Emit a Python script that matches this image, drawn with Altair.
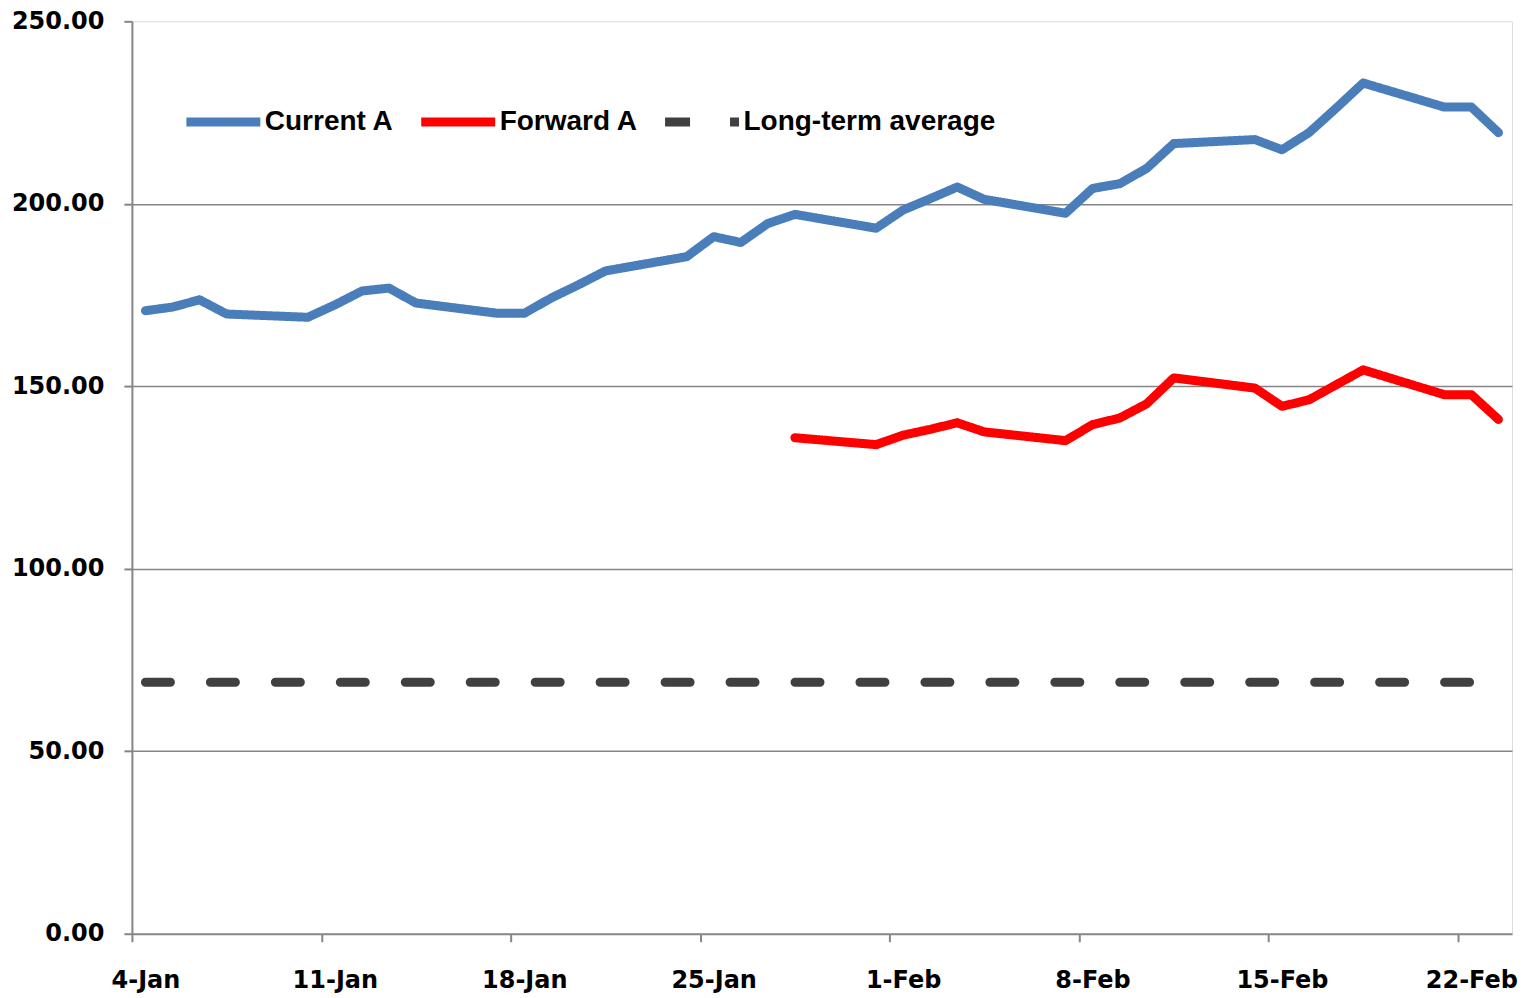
import json
import altair as alt
import pandas as pd

# ---- data ----
dates = [
    "2011-01-04", "2011-01-05", "2011-01-06", "2011-01-07",
    "2011-01-10", "2011-01-11", "2011-01-12", "2011-01-13", "2011-01-14",
    "2011-01-17", "2011-01-18", "2011-01-19", "2011-01-20", "2011-01-21",
    "2011-01-24", "2011-01-25", "2011-01-26", "2011-01-27", "2011-01-28",
    "2011-01-31", "2011-02-01", "2011-02-02", "2011-02-03", "2011-02-04",
    "2011-02-07", "2011-02-08", "2011-02-09", "2011-02-10", "2011-02-11",
    "2011-02-14", "2011-02-15", "2011-02-16", "2011-02-17", "2011-02-18",
    "2011-02-21", "2011-02-22", "2011-02-23",
]
current_a = [
    170.7, 171.7, 173.7, 169.8,
    168.9, 172.3, 176.1, 176.9, 172.8,
    170.0, 170.0, 174.2, 177.8, 181.6,
    185.5, 191.0, 189.4, 194.6, 197.1,
    193.3, 198.3, 201.4, 204.6, 201.2,
    197.4, 204.2, 205.5, 209.7, 216.5,
    217.6, 214.8, 219.5, 226.2, 233.1,
    226.5, 226.5, 219.5,
]
forward_dates = dates[18:]
forward_a = [
    135.9,
    134.0, 136.6, 138.2, 140.0, 137.5,
    135.1, 139.5, 141.3, 145.2, 152.3,
    149.5, 144.5, 146.3, 150.4, 154.5,
    147.7, 147.7, 140.9,
]
long_term_average = 68.9

series_names = ["Current A", "Forward A", "Long-term average"]
series_colors = ["#4A7EBB", "#FF0000", "#404040"]
series_dashes = [[1, 0], [1, 0], [25, 40]]
y_ticks = [0, 50, 100, 150, 200, 250]
x_tick_labels = ["4-Jan", "11-Jan", "18-Jan", "25-Jan", "1-Feb", "8-Feb", "15-Feb", "22-Feb"]

# ---- build table ----
start = pd.Timestamp(dates[0])


def day_index(d):
    return (pd.Timestamp(d) - start).days


rows = []
for d, v in zip(dates, current_a):
    rows.append({"series": series_names[0], "day": day_index(d), "value": v})
for d, v in zip(forward_dates, forward_a):
    rows.append({"series": series_names[1], "day": day_index(d), "value": v})
for d in dates:
    rows.append({"series": series_names[2], "day": day_index(d), "value": long_term_average})
df = pd.DataFrame(rows)

n_days = day_index(dates[-1]) + 1
x_domain = [-0.5, n_days - 0.5]
x_tick_values = [-0.5 + 7 * i for i in range(len(x_tick_labels))]
label_expr = json.dumps(x_tick_labels) + "[round((datum.value + 0.5) / 7)]"

LEGEND_FONT = "Liberation Sans"
AXIS_FONT = "DejaVu Sans"
GRAY = "#868686"

legend = alt.Legend(
    title=None,
    orient="none",
    legendX=50,
    legendY=59,
    direction="horizontal",
    symbolType="stroke",
    symbolSize=5476,
    symbolStrokeWidth=9,
    labelFont=LEGEND_FONT,
    labelFontSize=28,
    labelFontWeight="bold",
    labelColor="black",
    labelLimit=400,
    labelOffset=0,
    columnPadding=8,
    padding=0,
)

chart = alt.Chart(df).mark_line(
    strokeWidth=9, strokeCap="round", strokeJoin="round"
).encode(
    x=alt.X(
        "day:Q",
        scale=alt.Scale(domain=x_domain, nice=False, zero=False),
        axis=alt.Axis(
            title=None,
            values=x_tick_values,
            labelExpr=label_expr,
            grid=False,
            domainColor=GRAY,
            domainWidth=2,
            tickColor=GRAY,
            tickWidth=2,
            tickSize=8,
            labelOffset=13.5,
            labelPadding=27,
            labelFont=AXIS_FONT,
            labelFontSize=24,
            labelFontWeight="bold",
            labelColor="black",
            labelFlush=False,
            labelOverlap=False,
        ),
    ),
    y=alt.Y(
        "value:Q",
        scale=alt.Scale(domain=[0, 250], nice=False),
        axis=alt.Axis(
            title=None,
            values=y_ticks,
            format=".2f",
            grid=True,
            gridColor=GRAY,
            gridWidth=1.5,
            gridOpacity=alt.condition("datum.value == 250 || datum.value == 0", alt.value(0), alt.value(1)),
            domainColor=GRAY,
            domainWidth=2,
            tickColor=GRAY,
            tickWidth=2,
            tickSize=8,
            labelPadding=20,
            labelFont=AXIS_FONT,
            labelFontSize=24,
            labelFontWeight="bold",
            labelColor="black",
            labelFlush=False,
            labelOverlap=False,
        ),
    ),
    color=alt.Color(
        "series:N",
        scale=alt.Scale(domain=series_names, range=series_colors),
        legend=legend,
    ),
    strokeDash=alt.StrokeDash(
        "series:N",
        scale=alt.Scale(domain=series_names, range=series_dashes),
        legend=legend,
    ),
    order="day:Q",
).properties(
    width=1381,
    height=913,
    autosize=alt.AutoSizeParams(type="none"),
    padding={"left": 124, "top": 13, "right": 10, "bottom": 60},
).configure_view(
    stroke="black", strokeWidth=1.5
).configure(
    background="white"
)

chart.save("out.html", embed_options={"renderer": "svg", "actions": False})
